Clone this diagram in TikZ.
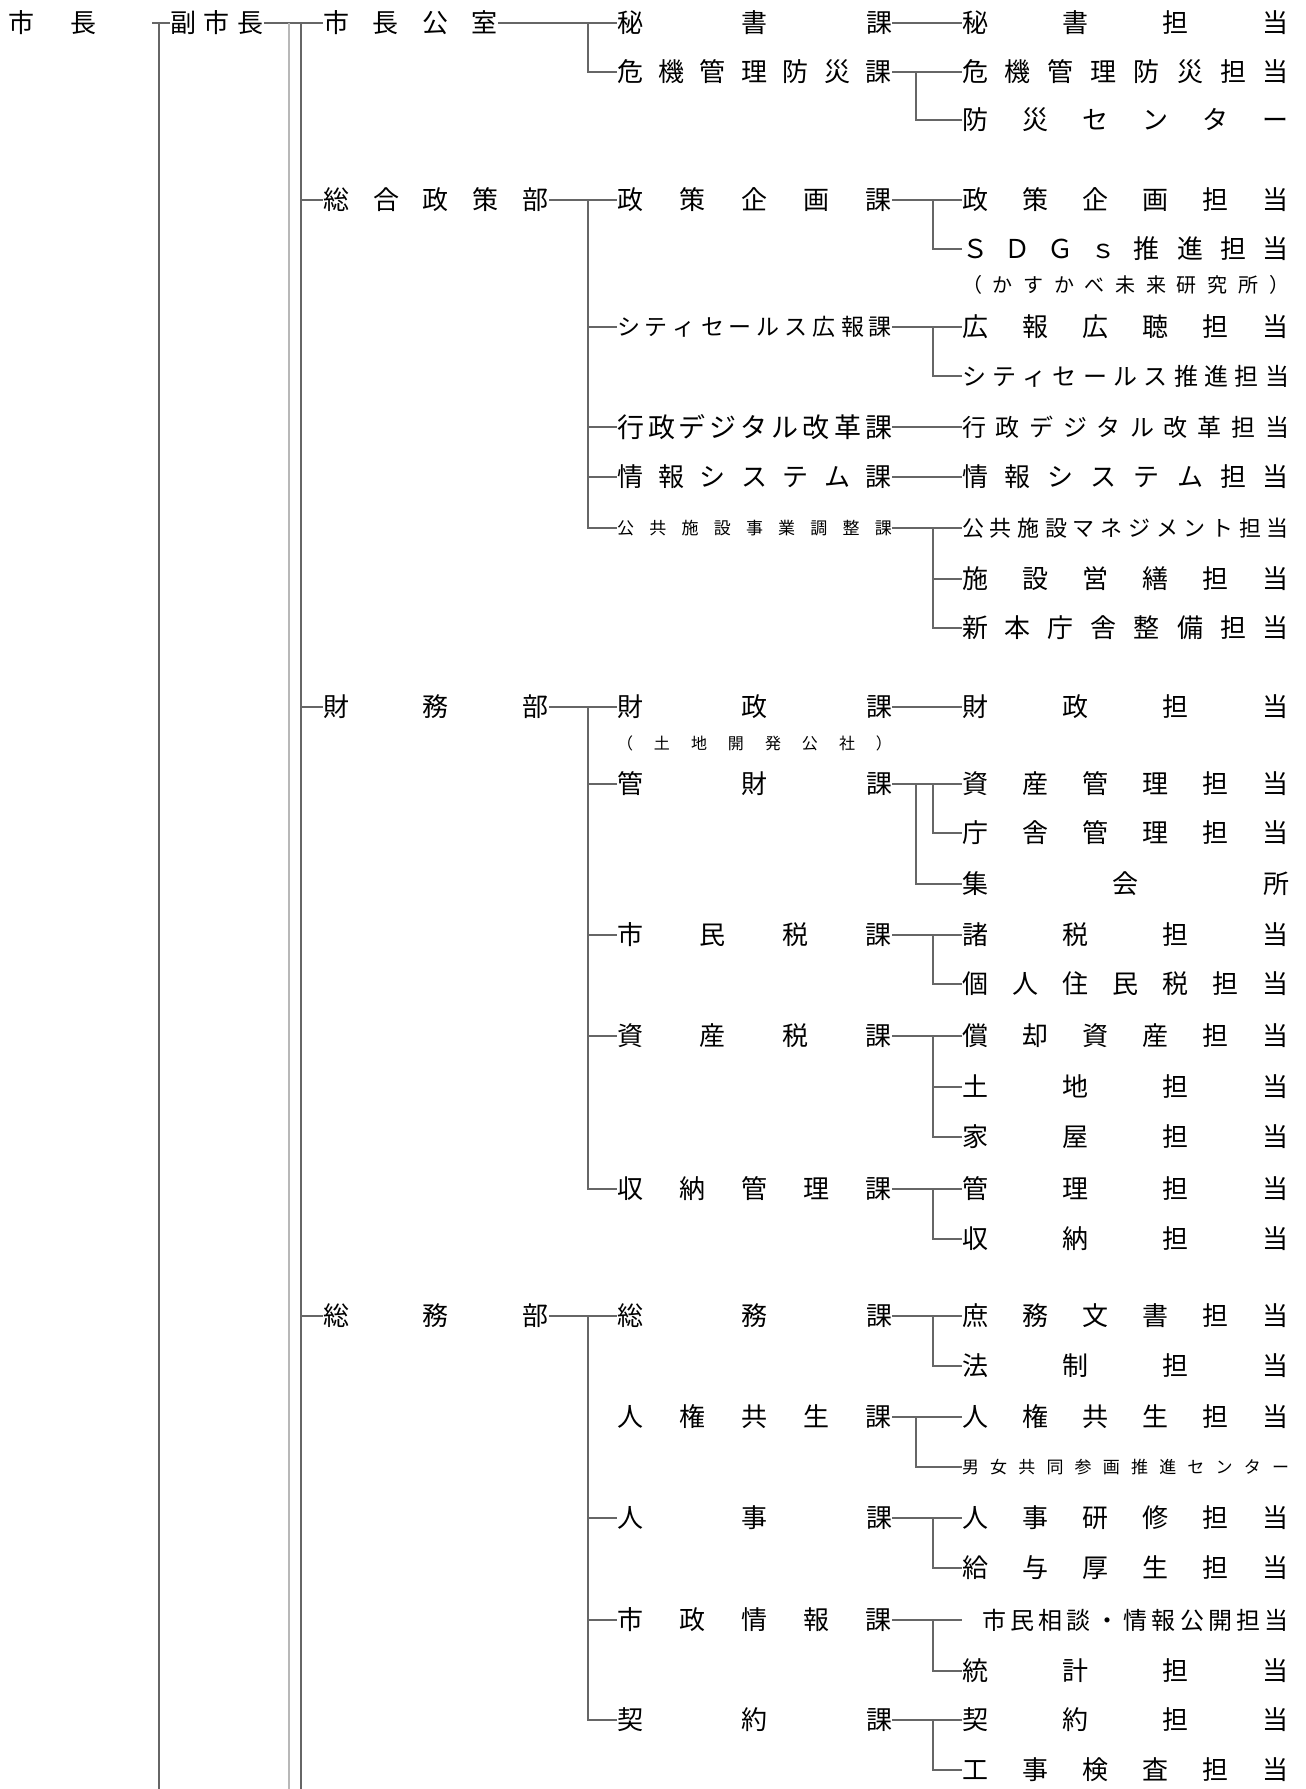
\documentclass[tikz,border=0pt]{standalone}
\usepackage{fontspec}
\setmainfont{Noto Sans CJK JP}
\makeatletter
\def\jst#1{\jst@a#1\@nil}
\def\jst@a#1#2\@nil{#1\ifx\relax#2\relax\else\hfill\jst@a#2\@nil\fi}
\makeatother
\newcommand\J[2]{\hbox to \dimexpr #1pt/2\relax{\jst{#2}}}
\tikzset{
  lbl/.style={inner sep=0pt, outer sep=0pt, anchor=west, font=\fontsize{13}{15}\selectfont},
  fs/.style={font=\fontsize{#1}{#1}\selectfont},
  ln/.style={draw=black!60, line width=0.6pt},
  lnl/.style={draw=black!28, line width=0.6pt},
}
\begin{document}
\begin{tikzpicture}[x=0.5pt,y=-0.5pt]
\useasboundingbox[fill=white] (0,0) rectangle (1306,1789);
% top level
\node[lbl] (m0) at (9,23) {\J{88}{市長}};
\node[lbl] (m1) at (170,23) {\J{94}{副市長}};
% departments
\node[lbl] (d1) at (323,23) {\J{175}{市長公室}};
\node[lbl] (d2) at (323,200) {\J{226}{総合政策部}};
\node[lbl] (d3) at (323,707) {\J{226}{財務部}};
\node[lbl] (d4) at (323,1316) {\J{226}{総務部}};
% sections
\node[lbl] (s1) at (617,23) {\J{275}{秘書課}};
\node[lbl] (s2) at (617,72) {\J{275}{危機管理防災課}};
\node[lbl] (s3) at (617,200) {\J{275}{政策企画課}};
\node[lbl,fs=11.5] (s4) at (617,327) {\J{275}{シティセールス広報課}};
\node[lbl,fs=13.5] (s5) at (617,427) {\J{275}{行政デジタル改革課}};
\node[lbl] (s6) at (617,477) {\J{275}{情報システム課}};
\node[lbl,fs=8.5] (s7) at (617,528) {\J{275}{公共施設事業調整課}};
\node[lbl] (s8) at (617,707) {\J{275}{財政課}};
\node[lbl,fs=8] (s8n) at (617,743) {\J{275}{（土地開発公社）}};
\node[lbl] (s9) at (617,784) {\J{275}{管財課}};
\node[lbl] (s10) at (617,935) {\J{275}{市民税課}};
\node[lbl] (s11) at (617,1036) {\J{275}{資産税課}};
\node[lbl] (s12) at (617,1189) {\J{275}{収納管理課}};
\node[lbl] (s13) at (617,1316) {\J{275}{総務課}};
\node[lbl] (s14) at (617,1417) {\J{275}{人権共生課}};
\node[lbl] (s15) at (617,1518) {\J{275}{人事課}};
\node[lbl] (s16) at (617,1620) {\J{275}{市政情報課}};
\node[lbl] (s17) at (617,1720) {\J{275}{契約課}};
% teams
\node[lbl] (t1) at (962,23) {\J{327}{秘書担当}};
\node[lbl] (t2) at (962,72) {\J{327}{危機管理防災担当}};
\node[lbl] (t3) at (962,120) {\J{327}{防災センター}};
\node[lbl] (t4) at (962,200) {\J{327}{政策企画担当}};
\node[lbl] (t5) at (962,249) {\J{327}{ＳＤＧｓ推進担当}};
\node[lbl,fs=10] (t5n) at (962,285) {\J{327}{（かすかべ未来研究所）}};
\node[lbl] (t6) at (962,327) {\J{327}{広報広聴担当}};
\node[lbl,fs=12] (t7) at (962,376) {\J{327}{シティセールス推進担当}};
\node[lbl,fs=12] (t8) at (962,427) {\J{327}{行政デジタル改革担当}};
\node[lbl] (t9) at (962,477) {\J{327}{情報システム担当}};
\node[lbl,fs=11] (t10) at (962,528) {\J{327}{公共施設マネジメント担当}};
\node[lbl] (t11) at (962,579) {\J{327}{施設営繕担当}};
\node[lbl] (t12) at (962,628) {\J{327}{新本庁舎整備担当}};
\node[lbl] (t13) at (962,707) {\J{327}{財政担当}};
\node[lbl] (t14) at (962,784) {\J{327}{資産管理担当}};
\node[lbl] (t15) at (962,833) {\J{327}{庁舎管理担当}};
\node[lbl] (t16) at (962,884) {\J{327}{集会所}};
\node[lbl] (t17) at (962,935) {\J{327}{諸税担当}};
\node[lbl] (t18) at (962,984) {\J{327}{個人住民税担当}};
\node[lbl] (t19) at (962,1036) {\J{327}{償却資産担当}};
\node[lbl] (t20) at (962,1087) {\J{327}{土地担当}};
\node[lbl] (t21) at (962,1137) {\J{327}{家屋担当}};
\node[lbl] (t22) at (962,1189) {\J{327}{管理担当}};
\node[lbl] (t23) at (962,1239) {\J{327}{収納担当}};
\node[lbl] (t24) at (962,1316) {\J{327}{庶務文書担当}};
\node[lbl] (t25) at (962,1366) {\J{327}{法制担当}};
\node[lbl] (t26) at (962,1417) {\J{327}{人権共生担当}};
\node[lbl,fs=8.5] (t27) at (962,1467) {\J{327}{男女共同参画推進センター}};
\node[lbl] (t28) at (962,1518) {\J{327}{人事研修担当}};
\node[lbl] (t29) at (962,1568) {\J{327}{給与厚生担当}};
\node[lbl,fs=12] (t30) at (962,1620) {\hbox to 163.5pt{\hskip 10pt\jst{市民相談・情報公開担当}}};
\node[lbl] (t31) at (962,1671) {\J{327}{統計担当}};
\node[lbl] (t32) at (962,1720) {\J{327}{契約担当}};
\node[lbl] (t33) at (962,1770) {\J{327}{工事検査担当}};
% vertical line positions
\coordinate (a0) at (152,23);
\coordinate (bA) at (159,1789);
\coordinate (bL) at (289,1789);
\coordinate (bR) at (301,1789);
\coordinate (vd) at (588,0);
\coordinate (ve) at (916,0);
\coordinate (vf) at (933,0);
% mayor / vice mayor
\draw[ln] (a0) -- (m1.west);
\draw[ln] (a0 -| bA) -- (bA);
\draw[ln] (m1.east) -- (d1.west);
\draw[lnl] (m1.east -| bL) -- (bL);
\draw[ln] (m1.east -| bR) -- (bR);
\foreach \d in {d2,d3,d4} \draw[ln] (\d.west -| bR) -- (\d.west);
% department -> sections
\draw[ln] (d1.east) -- (s1.west);
\draw[ln] (d1.east -| vd) |- (s2.west);
\draw[ln] (d2.east) -- (s3.west);
\draw[ln] (d2.east -| vd) |- (s7.west);
\foreach \s in {s4,s5,s6} \draw[ln] (\s.west -| vd) -- (\s.west);
\draw[ln] (d3.east) -- (s8.west);
\draw[ln] (d3.east -| vd) |- (s12.west);
\foreach \s in {s9,s10,s11} \draw[ln] (\s.west -| vd) -- (\s.west);
\draw[ln] (d4.east) -- (s13.west);
\draw[ln] (d4.east -| vd) |- (s17.west);
\foreach \s in {s15,s16} \draw[ln] (\s.west -| vd) -- (\s.west);
% sections -> teams
\draw[ln] (s1.east) -- (t1.west);
\draw[ln] (s2.east) -- (t2.west);
\draw[ln] (s2.east -| ve) |- (t3.west);
\draw[ln] (s3.east) -- (t4.west);
\draw[ln] (s3.east -| vf) |- (t5.west);
\draw[ln] (s4.east) -- (t6.west);
\draw[ln] (s4.east -| vf) |- (t7.west);
\draw[ln] (s5.east) -- (t8.west);
\draw[ln] (s6.east) -- (t9.west);
\draw[ln] (s7.east) -- (t10.west);
\draw[ln] (s7.east -| vf) |- (t12.west);
\draw[ln] (t11.west -| vf) -- (t11.west);
\draw[ln] (s8.east) -- (t13.west);
\draw[ln] (s9.east) -- (t14.west);
\draw[ln] (s9.east -| vf) |- (t15.west);
\draw[ln] (s9.east -| ve) |- (t16.west);
\draw[ln] (s10.east) -- (t17.west);
\draw[ln] (s10.east -| vf) |- (t18.west);
\draw[ln] (s11.east) -- (t19.west);
\draw[ln] (s11.east -| vf) |- (t21.west);
\draw[ln] (t20.west -| vf) -- (t20.west);
\draw[ln] (s12.east) -- (t22.west);
\draw[ln] (s12.east -| vf) |- (t23.west);
\draw[ln] (s13.east) -- (t24.west);
\draw[ln] (s13.east -| vf) |- (t25.west);
\draw[ln] (s14.east) -- (t26.west);
\draw[ln] (s14.east -| ve) |- (t27.west);
\draw[ln] (s15.east) -- (t28.west);
\draw[ln] (s15.east -| vf) |- (t29.west);
\draw[ln] (s16.east) -- (t30.west);
\draw[ln] (s16.east -| vf) |- (t31.west);
\draw[ln] (s17.east) -- (t32.west);
\draw[ln] (s17.east -| vf) |- (t33.west);
\end{tikzpicture}
\end{document}
